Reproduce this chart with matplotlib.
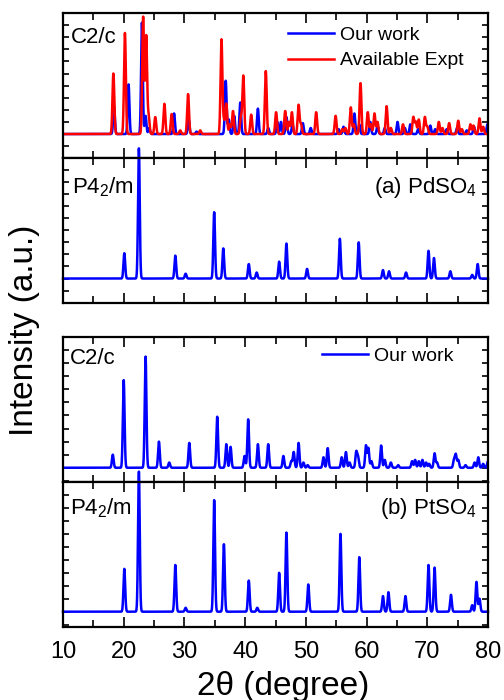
import numpy as np
import matplotlib
matplotlib.use("Agg")
import matplotlib.pyplot as plt
from matplotlib.ticker import MultipleLocator, NullFormatter

plt.rcParams['font.family'] = ['Liberation Sans', 'DejaVu Sans']
plt.rcParams['mathtext.fontset'] = 'custom'
plt.rcParams['mathtext.rm'] = 'Liberation Sans'
plt.rcParams['mathtext.it'] = 'Liberation Sans:italic'

# ---- Peak lists (2theta, relative intensity) ----
pd_c2c_our_pos = [18.4, 20.8, 23.0, 23.6, 24.2, 28.3, 30.7, 32.0, 36.8, 37.3, 38.2, 39.2,
                  42.1, 43.8, 45.3, 45.9, 46.8, 47.8, 49.5, 50.8, 55.4, 56.2, 58.0, 58.8,
                  60.6, 61.8, 63.0, 65.1, 66.3, 67.2, 68.5, 70.5, 71.3, 73.2, 74.9, 76.5,
                  77.7, 79.9]
pd_c2c_our_int = [0.23, 0.41, 0.92, 0.15, 0.05, 0.17, 0.12, 0.02, 0.44, 0.12, 0.15, 0.26,
                  0.21, 0.05, 0.10, 0.10, 0.14, 0.08, 0.09, 0.05, 0.04, 0.06, 0.17, 0.08,
                  0.10, 0.07, 0.05, 0.10, 0.05, 0.08, 0.04, 0.07, 0.04, 0.04, 0.05, 0.03,
                  0.06, 0.08]

pd_c2c_exp_pos = [18.3, 20.2, 23.2, 23.7, 24.1, 25.2, 26.7, 27.9, 29.3, 30.6, 32.6, 36.1,
                  36.5, 36.9, 37.5, 38.0, 39.3, 39.7, 41.0, 43.4, 45.1, 46.6, 47.2, 47.7,
                  48.8, 49.2, 51.7, 54.9, 56.0, 56.5, 57.4, 57.9, 59.0, 60.2, 60.7, 61.3,
                  61.8, 63.3, 64.0, 66.0, 67.7, 68.1, 68.6, 69.6, 70.0, 71.9, 72.5, 73.6,
                  75.1, 75.7, 77.1, 77.6, 78.6, 79.2]
pd_c2c_exp_int = [0.50, 0.835, 0.967, 0.81, 0.15, 0.14, 0.25, 0.165, 0.03, 0.33, 0.03, 0.78,
                  0.10, 0.25, 0.08, 0.19, 0.14, 0.48, 0.16, 0.52, 0.18, 0.19, 0.10, 0.18,
                  0.24, 0.08, 0.18, 0.15, 0.04, 0.05, 0.22, 0.08, 0.42, 0.18, 0.08, 0.17,
                  0.10, 0.23, 0.05, 0.08, 0.14, 0.10, 0.12, 0.14, 0.06, 0.10, 0.05, 0.09,
                  0.11, 0.04, 0.08, 0.07, 0.13, 0.06]

pd_p42m_pos = [20.1, 22.5, 28.5, 30.2, 34.9, 36.4, 40.6, 41.9, 45.6, 46.8, 50.2, 55.6,
               58.7, 62.7, 63.7, 66.5, 70.2, 71.1, 73.8, 77.4, 78.3]
pd_p42m_int = [0.21, 1.08, 0.19, 0.04, 0.55, 0.25, 0.12, 0.05, 0.14, 0.29, 0.08, 0.33,
               0.30, 0.07, 0.06, 0.05, 0.23, 0.17, 0.06, 0.03, 0.12]

pt_c2c_pos = [18.2, 20.0, 23.6, 25.8, 27.5, 30.8, 35.4, 36.9, 37.6, 39.9, 40.5, 42.1,
              43.8, 46.3, 47.6, 48.0, 48.8, 49.6, 50.3, 52.9, 53.6, 55.9, 56.6, 57.2,
              58.3, 58.6, 59.9, 60.3, 60.8, 62.4, 63.0, 64.0, 65.2, 67.5, 68.0, 68.6,
              69.2, 69.8, 70.3, 71.2, 71.6, 74.4, 74.7, 75.1, 76.3, 77.8, 78.4, 79.2, 80.0]
pt_c2c_int = [0.10, 0.67, 0.85, 0.20, 0.04, 0.19, 0.39, 0.18, 0.16, 0.09, 0.37, 0.18,
              0.18, 0.09, 0.05, 0.12, 0.19, 0.04, 0.02, 0.08, 0.15, 0.08, 0.12, 0.04,
              0.12, 0.08, 0.17, 0.15, 0.05, 0.17, 0.06, 0.04, 0.02, 0.05, 0.06, 0.05,
              0.06, 0.04, 0.03, 0.11, 0.04, 0.06, 0.10, 0.06, 0.02, 0.04, 0.08, 0.03, 0.05]

pt_p42m_pos = [20.1, 22.5, 28.5, 30.2, 34.9, 36.5, 40.6, 42.0, 45.6, 46.8, 50.4, 55.7,
               58.8, 62.7, 63.6, 66.4, 70.2, 71.2, 73.9, 77.4, 78.1, 78.6]
pt_p42m_int = [0.33, 1.08, 0.36, 0.03, 0.86, 0.52, 0.24, 0.03, 0.30, 0.61, 0.21, 0.60,
               0.42, 0.12, 0.15, 0.12, 0.36, 0.34, 0.13, 0.05, 0.23, 0.10]

x_ticks = [10, 20, 30, 40, 50, 60, 70, 80]

# ---- profile from peak list (Gaussian broadening) ----
tt = np.linspace(10, 80, 3501)

def profile(pos, inten, sigma=0.14):
    y = np.zeros_like(tt)
    for p, h in zip(pos, inten):
        y += h * np.exp(-0.5 * ((tt - p) / sigma) ** 2)
    return y

fig = plt.figure(figsize=(5.04, 7.0), dpi=100)
L, W, H = 63 / 504, 425 / 504, 145 / 700
ax1 = fig.add_axes([L, 1 - 158 / 700, W, H])
ax2 = fig.add_axes([L, 1 - 303 / 700, W, H])
ax3 = fig.add_axes([L, 1 - 482 / 700, W, H])
ax4 = fig.add_axes([L, 1 - 627 / 700, W, H])

blue, red = '#0000FF', '#FF0000'
lw = 1.8

ax1.plot(tt, profile(pd_c2c_our_pos, pd_c2c_our_int), color=blue, lw=lw, label='Our work')
ax1.plot(tt, profile(pd_c2c_exp_pos, pd_c2c_exp_int, 0.15), color=red, lw=lw, label='Available Expt')
ax2.plot(tt, profile(pd_p42m_pos, pd_p42m_int), color=blue, lw=lw, clip_on=False)
ax3.plot(tt, profile(pt_c2c_pos, pt_c2c_int), color=blue, lw=lw, label='Our work')
ax4.plot(tt, profile(pt_p42m_pos, pt_p42m_int), color=blue, lw=lw, clip_on=False)

offs = [0.198, 0.203, 0.109, 0.118]
for ax, off in zip([ax1, ax2, ax3, ax4], offs):
    ax.set_xlim(10, 80)
    ax.set_ylim(-off, 1.0)
    ax.set_xticks(x_ticks)
    ax.xaxis.set_minor_locator(MultipleLocator(5))
    ax.yaxis.set_major_locator(MultipleLocator(0.1))
    ax.yaxis.set_major_formatter(NullFormatter())
    ax.tick_params(axis='both', which='both', direction='in', top=True, right=True,
                   width=1.2)
    ax.tick_params(axis='x', which='major', length=7)
    ax.tick_params(axis='x', which='minor', length=5)
    ax.tick_params(axis='y', which='major', length=4)
    for s in ax.spines.values():
        s.set_linewidth(1.6)
    if ax is not ax4:
        ax.set_xticklabels([])
ax4.tick_params(axis='x', labelsize=17, pad=10)

fs = 16
ax1.text(0.018, 0.83, 'C2/c', transform=ax1.transAxes, fontsize=fs, va='center')
ax2.text(0.022, 0.80, 'P4$_2$/m', transform=ax2.transAxes, fontsize=fs, va='center')
ax2.text(0.975, 0.80, '(a) PdSO$_4$', transform=ax2.transAxes, fontsize=fs, va='center', ha='right')
ax3.text(0.016, 0.855, 'C2/c', transform=ax3.transAxes, fontsize=fs, va='center')
ax4.text(0.016, 0.82, 'P4$_2$/m', transform=ax4.transAxes, fontsize=fs, va='center')
ax4.text(0.975, 0.82, '(b) PtSO$_4$', transform=ax4.transAxes, fontsize=fs, va='center', ha='right')

ax1.legend(loc='upper left', bbox_to_anchor=(0.529, 0.91), frameon=False, fontsize=14,
           handlelength=2.35, handletextpad=0.35, labelspacing=0.42, borderaxespad=0,
           borderpad=0)
ax3.legend(loc='upper left', bbox_to_anchor=(0.609, 0.93), frameon=False, fontsize=14,
           handlelength=2.35, handletextpad=0.35, borderaxespad=0, borderpad=0)

ax4.set_xlabel('2\u03b8 (degree)', fontsize=24)
ax4.xaxis.set_label_coords(0.518, -0.30)
fig.text(25 / 504, 1 - 330 / 700, 'Intensity (a.u.)', rotation=90, fontsize=24,
         ha='center', va='center')

fig.savefig('out.png', dpi=100)
